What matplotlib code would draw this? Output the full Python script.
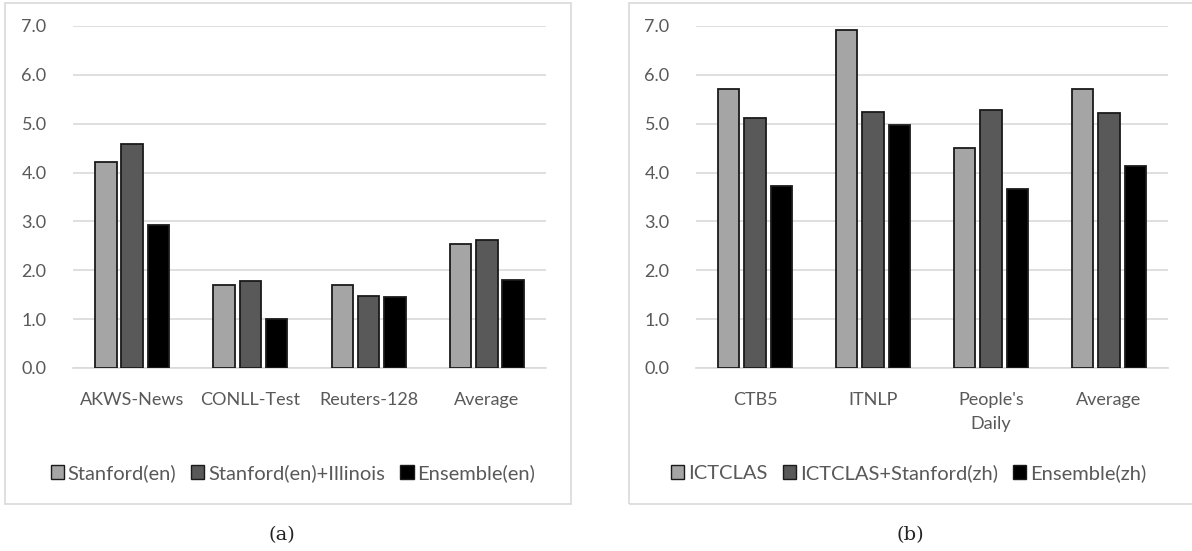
import matplotlib
matplotlib.use("Agg")
import matplotlib.pyplot as plt
from matplotlib.patches import Rectangle, Patch
import numpy as np

plt.rcParams['font.family'] = ['Lato', 'DejaVu Sans']

# ---- data ----
cats_en = ["AKWS-News", "CONLL-Test", "Reuters-128", "Average"]
series_en = ["Stanford(en)", "Stanford(en)+Illinois", "Ensemble(en)"]
stanford_en = [4.21, 1.69, 1.69, 2.54]
stanford_illinois = [4.59, 1.79, 1.48, 2.61]
ensemble_en = [2.92, 1.01, 1.46, 1.80]

cats_zh = ["CTB5", "ITNLP", "People's\nDaily", "Average"]
series_zh = ["ICTCLAS", "ICTCLAS+Stanford(zh)", "Ensemble(zh)"]
ictclas = [5.72, 6.91, 4.51, 5.72]
ictclas_stanford = [5.12, 5.24, 5.29, 5.22]
ensemble_zh = [3.72, 4.98, 3.67, 4.13]

yticks = [0, 1, 2, 3, 4, 5, 6, 7]
ytick_labels = ["0.0", "1.0", "2.0", "3.0", "4.0", "5.0", "6.0", "7.0"]

colors = ["#A5A5A5", "#595959", "#000000"]
grid_c = "#D9D9D9"
text_c = "#595959"

W, H = 1192, 551
fig = plt.figure(figsize=(W / 100, H / 100), dpi=100)

def fx(px):
    return px / W

def fy(py):
    return 1 - py / H

# panel boxes
for x0, x1 in [(5, 571), (629, 1200)]:
    fig.patches.append(Rectangle((fx(x0), fy(504)), fx(x1 - x0), (504 - 3) / H,
                                 transform=fig.transFigure, fill=False,
                                 edgecolor=grid_c, linewidth=1.2))

def panel(ax_left_px, ax_right_px, cats, vals, names, legend_cx, caption, cap_cx):
    ax = fig.add_axes([fx(ax_left_px), fy(368), fx(ax_right_px - ax_left_px), (368 - 26) / H])
    x = np.arange(len(cats))
    w = 0.18
    off = 0.222
    handles = []
    for i, (v, c, n) in enumerate(zip(vals, colors, names)):
        ax.bar(x + (i - 1) * off, v, width=w, color=c, edgecolor="#1a1a1a",
               linewidth=1.3, zorder=3)
        handles.append(Patch(facecolor=c, edgecolor="#1a1a1a", linewidth=1.0, label=n))
    ax.set_xlim(-0.5, len(cats) - 0.5)
    ax.set_ylim(0, 7)
    ax.set_yticks(yticks)
    ax.set_yticklabels(ytick_labels)
    ax.set_xticks(x)
    ax.set_xticklabels(cats, linespacing=1.6)
    ax.yaxis.grid(True, color=grid_c, linewidth=1.2, zorder=0)
    ax.set_axisbelow(True)
    for s in ["top", "right", "left"]:
        ax.spines[s].set_visible(False)
    ax.spines["bottom"].set_color(grid_c)
    ax.spines["bottom"].set_linewidth(1.2)
    ax.tick_params(axis="both", length=0, colors=text_c, labelsize=13)
    ax.tick_params(axis="x", pad=17.5)
    ax.tick_params(axis="y", pad=19)
    fig.legend(handles=handles, loc="center", bbox_to_anchor=(fx(legend_cx), fy(473)),
               ncol=3, frameon=False, fontsize=14.5, labelcolor=text_c,
               handlelength=0.65, handleheight=0.65, handletextpad=0.2,
               columnspacing=0.75)
    fig.text(fx(cap_cx), fy(535), caption, ha="center", va="center",
             fontsize=14, family="DejaVu Serif", color="#222222")
    return ax

panel(73, 546, cats_en, [stanford_en, stanford_illinois, ensemble_en], series_en,
      293, "(a)", 282)
panel(696, 1168, cats_zh, [ictclas, ictclas_stanford, ensemble_zh], series_zh,
      909, "(b)", 910)

fig.savefig("out.png", dpi=100)
